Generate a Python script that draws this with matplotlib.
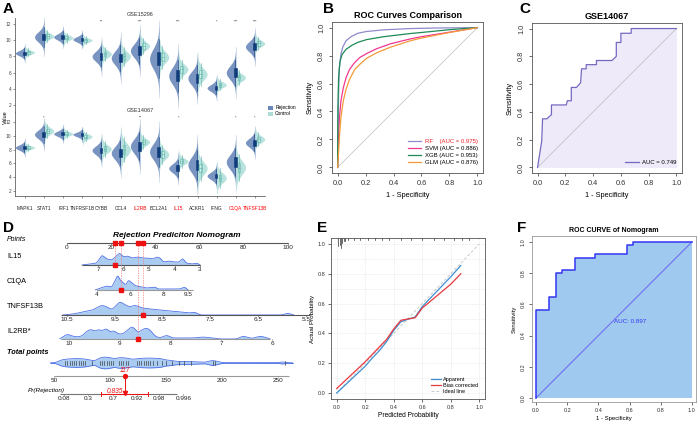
import numpy as np
import matplotlib
matplotlib.use("Agg")
import matplotlib.pyplot as plt
from matplotlib.patches import Patch, Rectangle
from matplotlib.lines import Line2D

plt.rcParams['font.family'] = ['Liberation Sans', 'DejaVu Sans']

# ---------------- data ----------------
genes = ["MAPK1", "STAT1", "IRF1", "TNFRSF1B", "CYBB", "CCL4", "IL2RB",
         "BCL2A1", "IL15", "ACKR1", "IFNG", "C1QA", "TNFSF13B"]
hub_genes = ["IL2RB", "IL15", "C1QA", "TNFSF13B"]

gse15296_rej_med = [8.4, 10.4, 10.4, 10.1, 8.0, 7.8, 8.7, 7.7, 5.6, 5.3, 4.1, 6.0, 9.2]
gse15296_ctl_med = [8.5, 10.5, 10.3, 10.0, 8.3, 8.0, 9.3, 7.9, 6.4, 5.8, 4.5, 5.4, 9.6]
gse15296_rej_sd = [0.3, 0.6, 0.35, 0.3, 0.6, 0.8, 0.8, 1.2, 1.0, 0.8, 0.4, 0.8, 0.6]
gse15296_ctl_sd = [0.25, 0.35, 0.3, 0.25, 0.45, 0.6, 0.5, 0.7, 0.6, 0.7, 0.35, 0.45, 0.4]
gse15296_sig = ["", "", "", "", "**", "", "***", "", "***", "", "*", "***", "***"]

gse14067_rej_med = [8.3, 10.2, 10.3, 10.2, 7.9, 7.5, 8.5, 7.7, 5.3, 5.8, 4.2, 6.2, 9.0]
gse14067_ctl_med = [8.3, 10.7, 10.3, 9.9, 8.1, 8.0, 9.1, 7.3, 6.3, 5.3, 3.9, 5.4, 9.5]
gse14067_rej_sd = [0.35, 0.6, 0.35, 0.3, 0.6, 0.9, 1.0, 1.1, 0.6, 1.1, 0.5, 1.0, 0.6]
gse14067_ctl_sd = [0.25, 0.5, 0.3, 0.35, 0.55, 0.9, 0.5, 0.7, 0.45, 0.9, 0.7, 1.0, 0.5]
gse14067_sig = ["", "*", "", "", "", "", "**", "", "*", "", "", "*", "*"]

# Panel B ROC curves
rf_fpr = [0, 0.003, 0.007, 0.012, 0.024, 0.037, 0.06, 0.1, 0.146, 0.207, 0.33, 0.52, 0.7, 1.0]
rf_tpr = [0, 0.25, 0.52, 0.71, 0.81, 0.86, 0.906, 0.937, 0.96, 0.972, 0.984, 0.993, 0.997, 1.0]
svm_fpr = [0, 0.005, 0.012, 0.024, 0.041, 0.06, 0.085, 0.122, 0.159, 0.207, 0.28, 0.378, 0.524, 0.6, 0.8, 1.0]
svm_tpr = [0, 0.174, 0.337, 0.477, 0.57, 0.64, 0.70, 0.75, 0.786, 0.814, 0.849, 0.884, 0.92, 0.935, 0.967, 1.0]
xgb_fpr = [0, 0.002, 0.007, 0.017, 0.032, 0.06, 0.1, 0.146, 0.207, 0.33, 0.524, 0.6, 0.8, 1.0]
xgb_tpr = [0, 0.41, 0.64, 0.756, 0.807, 0.844, 0.872, 0.895, 0.914, 0.935, 0.958, 0.965, 0.985, 1.0]
glm_fpr = [0, 0.007, 0.015, 0.024, 0.041, 0.06, 0.085, 0.122, 0.159, 0.207, 0.28, 0.378, 0.524, 0.6, 0.8, 1.0]
glm_tpr = [0, 0.105, 0.244, 0.36, 0.477, 0.558, 0.628, 0.70, 0.737, 0.78, 0.82, 0.86, 0.907, 0.925, 0.965, 1.0]
model_labels = ["RF    (AUC = 0.975)", "SVM (AUC = 0.886)", "XGB (AUC = 0.953)", "GLM (AUC = 0.876)"]

# Panel C ROC (GSE14067)
c_fpr = [0, 0.03, 0.036, 0.067, 0.10, 0.10, 0.207, 0.214, 0.243, 0.243, 0.28, 0.31, 0.317, 0.35, 0.35,
         0.424, 0.424, 0.536, 0.567, 0.567, 0.6, 0.6, 0.674, 0.674, 1.0]
c_tpr = [0, 0.19, 0.35, 0.35, 0.38, 0.45, 0.45, 0.48, 0.48, 0.576, 0.576, 0.61, 0.71, 0.71, 0.74,
         0.74, 0.77, 0.77, 0.80, 0.90, 0.90, 0.966, 0.966, 1.0, 1.0]

# Panel D nomogram
il15_ticks = [7, 6, 5, 4, 3]
c1qa_ticks = [4, 6, 8, 9.5]
tnfsf13b_ticks = [10.5, 9.5, 8.5, 7.5, 6.5, 5.5]
il2rb_ticks = [10, 9, 8, 7, 6]
points_ticks = [0, 20, 40, 60, 80, 100]
total_ticks = [50, 100, 150, 200, 250]
pr_ticks = [0.08, 0.3, 0.7, 0.92, 0.98, 0.996]

il15_dens_v = [7.63, 7.3, 7.05, 6.85, 6.65, 6.45, 6.25, 6.15, 6.0, 5.85, 5.65, 5.45, 5.25, 5.05,
               4.85, 4.7, 4.55, 4.45, 4.2, 4.0, 3.8, 3.68, 3.55, 3.3, 3.12, 3.0]
il15_dens_h = [0, 1, 2, 10, 6, 5, 10, 12, 8, 9, 7, 8, 7, 7, 6, 8, 7, 3, 4, 3, 3, 7, 2, 1, 2, 0]
c1qa_dens_v = [3.9, 4.2, 4.6, 4.9, 5.05, 5.25, 5.4, 5.6, 5.75, 5.9, 6.05, 6.25, 6.4, 6.7, 7.0,
               7.5, 7.7, 8.3, 9.0, 9.3, 9.5]
c1qa_dens_h = [0, 2, 4, 3, 8, 15, 10, 7, 5, 10, 8, 5, 4, 3, 2, 3, 1, 1, 1, 3, 0]
tnf_dens_v = [10.58, 10.37, 10.17, 9.96, 9.77, 9.66, 9.56, 9.5, 9.39, 9.29, 9.18, 9.08, 8.93,
              8.76, 8.55, 8.35, 8.14, 7.93, 7.82, 7.72, 7.3, 6.0, 5.88, 5.76]
tnf_dens_h = [0, 1, 3, 5, 10, 8, 5, 8, 14, 10, 8, 10, 7, 6, 5, 4, 3, 2, 3, 0, 0, 0, 2, 0]
il2rb_dens_v = [10.18, 10.04, 9.94, 9.84, 9.74, 9.65, 9.55, 9.49, 9.43, 9.35, 9.25, 9.19, 9.13,
                9.03, 8.94, 8.84, 8.76, 8.7, 8.64, 8.54, 8.46, 8.4, 8.31, 8.21, 8.07, 7.97,
                7.75, 7.56, 7.36, 7.16, 7.02, 6.7, 6.57, 6.4, 6.22, 6.04]
il2rb_dens_h = [0, 5, 3, 2, 3, 8, 10, 7, 10, 8, 11, 6, 9, 5, 5, 9, 13, 10, 6, 10, 11, 9, 3, 1,
                4, 1, 1, 1, 2, 1, 0, 0, 3, 0.5, 3, 0]
total_dens_v = [47, 52, 56, 62, 70, 78, 84, 87, 90, 95, 100, 104, 108, 115, 120, 125, 135, 145,
                150, 155, 160, 170, 180, 185, 190, 193, 197, 202, 230, 250, 254, 258, 263]
total_dens_h = [0, 0.5, 3, 4, 4.5, 4, 2.5, 2, 5, 6, 5.5, 4, 5.5, 5, 3.5, 4.5, 5, 4.5, 3, 2.5,
                1.5, 1.5, 1, 0.6, 2.5, 2.5, 1, 0.3, 0.3, 0.3, 1.2, 0.3, 0]
total_obs = [60, 62, 64, 66, 68, 70, 72, 74, 76, 78, 84, 91, 93, 95, 97, 99, 101, 103, 108, 110,
             112, 114, 116, 124, 126, 128, 130, 132, 134, 136, 138, 142, 146, 150, 155, 162,
             166, 172, 192, 194, 256]
pt_il15, pt_c1qa, pt_tnf, pt_il2rb = 6.33, 5.45, 8.91, 8.64
pt_total_label = 117
pt_pr = 0.835
pt_pr_ci = [0.51, 0.96]

# Panel E calibration
cal_pred = [0, 0.1, 0.2, 0.25, 0.3, 0.35, 0.4, 0.45, 0.5, 0.55, 0.6, 0.7, 0.8, 0.87]
cal_apparent = [0.0, 0.09, 0.18, 0.235, 0.285, 0.345, 0.42, 0.478, 0.495, 0.51, 0.58, 0.68, 0.78, 0.855]
cal_bias = [0.03, 0.12, 0.21, 0.26, 0.31, 0.36, 0.43, 0.488, 0.497, 0.505, 0.57, 0.65, 0.73, 0.80]
rug_pred = [0.01, 0.02, 0.03, 0.04, 0.05, 0.06, 0.08, 0.12, 0.16, 0.22, 0.27, 0.32, 0.37, 0.45,
            0.52, 0.6, 0.68, 0.75, 0.82, 0.88, 0.93]
rug_count = [5, 4, 6, 3, 2, 2, 1, 1, 1, 1, 1, 1, 1, 1, 1, 1, 1, 1, 1, 1, 1]

# Panel F nomogram ROC
f_fpr = [0, 0, 0.083, 0.083, 0.128, 0.128, 0.168, 0.168, 0.249, 0.249, 0.377, 0.377, 0.584,
         0.584, 0.623, 0.623, 1.0]
f_tpr = [0, 0.566, 0.566, 0.647, 0.647, 0.80, 0.80, 0.82, 0.82, 0.90, 0.90, 0.92, 0.92, 0.98,
         0.98, 1.0, 1.0]

# ---------------- figure ----------------
W, H = 700, 425
fig = plt.figure(figsize=(7, 4.25), dpi=100)


def px_axes(l, t, r, b):
    return fig.add_axes([l / W, 1 - b / H, (r - l) / W, (b - t) / H])


def fig_text(x, y, s, **kw):
    fig.text(x / W, 1 - y / H, s, **kw)


for lab, (x, y) in zip("ABCDEF", [(8, 9), (328, 9), (525, 9), (8, 228), (322, 228), (522, 228)]):
    fig_text(x, y, lab, fontsize=11, fontweight='bold', ha='center', va='center')

# ---------------- Panel A ----------------
REJ_V, CTL_V = '#6A89BA', '#ACDDD7'
REJ_B, CTL_B, CTL_E = '#0F3C7A', '#CDEDE8', '#5DB3A8'


def half_violin(ax, pos, med, sd, side, color):
    y = np.linspace(med - 4.0 * sd, med + 4.0 * sd, 160)
    z = (y - med) / sd
    w = 0.5 * (0.85 * np.exp(-0.5 * z ** 2) + 0.15 * np.exp(-0.5 * (z / 2.0) ** 2))
    if side < 0:
        ax.fill_betweenx(y, pos - w, pos, color=color, lw=0, alpha=0.9)
    else:
        ax.fill_betweenx(y, pos, pos + w, color=color, lw=0, alpha=0.85)


def box(ax, pos, med, sd, face, edge):
    q1, q3 = med - 0.674 * sd, med + 0.674 * sd
    ax.plot([pos, pos], [med - 2 * sd, med + 2 * sd], color=edge, lw=0.4)
    ax.add_patch(Rectangle((pos - 0.07, q1), 0.14, q3 - q1, facecolor=face, edgecolor=edge, lw=0.4))
    ax.plot([pos - 0.07, pos + 0.07], [med, med], color=edge, lw=0.4)


facets = [
    ("GSE15296", gse15296_rej_med, gse15296_ctl_med, gse15296_rej_sd, gse15296_ctl_sd, gse15296_sig,
     (18, 112), (1.14, 12.74), 12.3, 15),
    ("GSE14067", gse14067_rej_med, gse14067_ctl_med, gse14067_rej_sd, gse14067_ctl_sd, gse14067_sig,
     (112, 196), (1.28, 13.45), 12.62, 111),
]
xpos = np.arange(len(genes))
for k, (name, rm, cm, rs, cs, sig, (t, b), ylim, sy, ly) in enumerate(facets):
    ax = px_axes(15, t, 265, b)
    ax.patch.set_alpha(0)
    for i in xpos:
        half_violin(ax, i, rm[i], rs[i], -1, REJ_V)
        half_violin(ax, i, cm[i], cs[i], 1, CTL_V)
        box(ax, i - 0.03, rm[i], rs[i], REJ_B, REJ_B)
        box(ax, i + 0.17, cm[i], cs[i], CTL_B, CTL_E)
        if sig[i]:
            ax.text(i, sy, sig[i], fontsize=2.8, ha='center', va='center', color='#333')
    ax.set_xlim(-0.52, 12.52)
    ax.set_ylim(*ylim)
    ax.set_yticks([2, 4, 6, 8, 10, 12])
    ax.tick_params(axis='y', labelsize=3.5, length=1.5, width=0.4, pad=1, colors='#444')
    for s in ['top', 'right']:
        ax.spines[s].set_visible(False)
    ax.spines['left'].set_linewidth(0.5)
    ax.spines['left'].set_color('#444')
    fig_text(140, ly, name, fontsize=4, ha='center', va='center', color='#333')
    if k == 0:
        ax.spines['bottom'].set_visible(False)
        ax.set_xticks([])
    else:
        ax.spines['bottom'].set_linewidth(0.5)
        ax.spines['bottom'].set_color('#444')
        ax.set_xticks(xpos)
        ax.set_xticklabels(genes, fontsize=3.5)
        ax.tick_params(axis='x', length=1.5, width=0.4, pad=6, colors='#444')
        for tl, g in zip(ax.get_xticklabels(), genes):
            tl.set_color('red' if g in hub_genes else '#222')
fig_text(5, 117, "Value", fontsize=4, rotation=90, ha='center', va='center')
fig.legend([Patch(facecolor=REJ_V, edgecolor='none'), Patch(facecolor=CTL_V, edgecolor='none')],
           ["Rejection", "Control"], loc='upper left', bbox_to_anchor=(266 / W, 1 - 103 / H),
           fontsize=3.5, frameon=False, handlelength=1.0, handleheight=0.8, labelspacing=0.2,
           borderpad=0, handletextpad=0.4)


# ---------------- R-style helpers ----------------
def rstyle(ax, fs=5, rot=True, pad=2.5, lims=(-0.04, 1.04)):
    ax.set_xlim(*lims)
    ax.set_ylim(*lims)
    for s in ax.spines.values():
        s.set_color('#555')
        s.set_linewidth(0.6)
    ticks = np.round(np.arange(0, 1.01, 0.2), 1)
    ax.set_xticks(ticks)
    ax.set_yticks(ticks)
    ax.set_xticklabels([f"{v:.1f}" for v in ticks])
    ax.set_yticklabels([f"{v:.1f}" for v in ticks])
    ax.tick_params(length=2.5, width=0.5, labelsize=fs, colors='#333', pad=pad)
    if rot:
        for tl in ax.get_yticklabels():
            tl.set_rotation(90)
            tl.set_va('center')


# ---------------- Panel B ----------------
axB = px_axes(332, 22, 483, 173)
rstyle(axB, fs=5.3)
axB.plot([0, 1], [0, 1], color='#BBBBBB', lw=0.5)
b_colors = ['#8F8BCB', '#F0388F', '#1F8A55', '#F39A3A']
handles = []
for fpr, tpr, c in zip([rf_fpr, svm_fpr, xgb_fpr, glm_fpr], [rf_tpr, svm_tpr, xgb_tpr, glm_tpr], b_colors):
    h, = axB.plot(fpr, tpr, color=c, lw=0.9)
    handles.append(h)
axB.set_title("ROC Curves Comparison", fontsize=6.5, fontweight='bold', pad=3)
axB.set_xlabel("1 - Specificity", fontsize=5.3, labelpad=4)
axB.set_ylabel("Sensitivity", fontsize=5.3, labelpad=3)
leg = axB.legend(handles, model_labels, loc='lower right', bbox_to_anchor=(1.0, 0.02), fontsize=4.3,
                 frameon=False, handlelength=2.2, labelspacing=0.3, handletextpad=0.6)
leg.get_texts()[0].set_color('#E8232A')

# ---------------- Panel C ----------------
axC = px_axes(532, 23, 682, 173)
rstyle(axC, fs=5.3)
axC.fill_between(c_fpr, 0, c_tpr, color='#EEEAFA', lw=0)
axC.plot([0, 1], [0, 1], color='#BBBBBB', lw=0.5)
hC, = axC.plot(c_fpr, c_tpr, color='#7468C0', lw=0.9)
axC.set_title("GSE14067", fontsize=6.5, fontweight='bold', pad=3)
axC.set_xlabel("1 - Specificity", fontsize=5.3, labelpad=4)
axC.set_ylabel("Sensitivity", fontsize=5.3, labelpad=3)
axC.legend([hC], ["AUC = 0.749"], loc='lower right', bbox_to_anchor=(1.0, 0.02), fontsize=4.3,
           frameon=False, handlelength=2.2, handletextpad=0.6)

# ---------------- Panel D (nomogram) ----------------
axD = px_axes(0, 215, 320, 425)
axD.set_xlim(0, 320)
axD.set_ylim(425, 215)
axD.axis('off')


def lin(v, v0, p0, v1, p1):
    return p0 + (np.asarray(v, dtype=float) - v0) * (p1 - p0) / (v1 - v0)


def s_points(v): return lin(v, 0, 67, 100, 288)
def s_il15(v): return lin(v, 7, 98, 3, 200)
def s_c1qa(v): return lin(v, 4, 97, 9.5, 188)
def s_tnf(v): return lin(v, 10.5, 67, 5.5, 306)
def s_il2rb(v): return lin(v, 10, 69, 6, 272)
def s_total(v): return lin(v, 50, 54, 250, 278)
def s_pr(p):
    p = np.asarray(p, dtype=float)
    return 100.5 + 15 * np.log(p / (1 - p))


DFILL, DEDGE = '#A9CCF0', '#5070E6'


def nomo_axis(scale, lo, hi, ticks, row, color='#666', fmt=None):
    axD.plot([scale(lo), scale(hi)], [row, row], color=color, lw=0.8, solid_capstyle='butt', zorder=2)
    for t in ticks:
        x = scale(t)
        axD.plot([x, x], [row, row + 1.3], color=color, lw=0.5, zorder=2)
        axD.text(x, row + 4.6, fmt(t) if fmt else f"{t:g}", fontsize=4.6, ha='center', va='center',
                 color='#222')


def smooth(v, h, scale):
    xs = scale(np.array(v))
    order = np.argsort(xs)
    xs, hs = xs[order], np.array(h, dtype=float)[order]
    xf = np.linspace(xs[0], xs[-1], 400)
    hf = np.interp(xf, xs, hs)
    k = np.exp(-0.5 * (np.arange(-8, 9) / 3.0) ** 2)
    k /= k.sum()
    hf = np.convolve(np.pad(hf, 8, mode='edge'), k, mode='same')[8:-8]
    return xf, hf


def density(v, h, scale, row):
    xf, hf = smooth(v, h, scale)
    axD.fill_between(xf, row, row - hf, color=DFILL, lw=0, zorder=1)
    axD.plot(xf, row - hf, color=DEDGE, lw=0.6, zorder=1.5)


rows = {'points': 243, 'il15': 265, 'c1qa': 290, 'tnf': 315, 'il2rb': 339,
        'tviol': 363, 'total': 376, 'pr': 394}

axD.text(7, 240, "Points", fontsize=5, style='italic', ha='left', va='center')
axD.text(7, 257, "IL15", fontsize=5.3, ha='left', va='center')
axD.text(7, 282, "C1QA", fontsize=5.3, ha='left', va='center')
axD.text(7, 307, "TNFSF13B", fontsize=5.3, ha='left', va='center')
axD.text(7, 332, "IL2RB*", fontsize=5.3, ha='left', va='center')
axD.text(7, 353, "Total points", fontsize=5.3, style='italic', fontweight='bold', ha='left', va='center')
axD.text(46, 391, "Pr(Rejection)", fontsize=4.6, style='italic', ha='center', va='center')
axD.text(177, 236, "Rejection Prediciton Nomogram", fontsize=6, style='italic', fontweight='bold',
         ha='center', va='center')

density(il15_dens_v, il15_dens_h, s_il15, rows['il15'])
density(c1qa_dens_v, c1qa_dens_h, s_c1qa, rows['c1qa'])
density(tnf_dens_v, tnf_dens_h, s_tnf, rows['tnf'])
density(il2rb_dens_v, il2rb_dens_h, s_il2rb, rows['il2rb'])

nomo_axis(s_points, 0, 100, points_ticks, rows['points'], color='#555')
nomo_axis(s_il15, 7.63, 3.0, il15_ticks, rows['il15'], color='#555')
nomo_axis(s_c1qa, 4, 9.8, c1qa_ticks, rows['c1qa'], color='#999')
nomo_axis(s_tnf, 10.62, 5.41, tnfsf13b_ticks, rows['tnf'], color='#555')
nomo_axis(s_il2rb, 10.16, 6.04, il2rb_ticks, rows['il2rb'], color='#999')
nomo_axis(s_total, 50, 260, total_ticks, rows['total'], color='#999')
nomo_axis(s_pr, 0.063, 0.994, pr_ticks, rows['pr'], color='#777')

xf, hf = smooth(total_dens_v, total_dens_h, s_total)
tv = rows['tviol']
axD.plot([s_total(47), s_total(263)], [tv, tv], color=DEDGE, lw=0.6, zorder=1)
axD.fill_between(xf, tv - hf, tv + hf, color=DFILL, lw=0, zorder=1)
axD.plot(xf, tv - hf, color=DEDGE, lw=0.6, zorder=1.5)
axD.plot(xf, tv + hf, color=DEDGE, lw=0.6, zorder=1.5)
for t in total_obs:
    x = s_total(t)
    axD.plot([x, x], [tv - 2.2, tv + 2.2], color='#333', lw=0.45, zorder=2)

for val, sc, key in [(pt_il15, s_il15, 'il15'), (pt_c1qa, s_c1qa, 'c1qa'),
                     (pt_tnf, s_tnf, 'tnf'), (pt_il2rb, s_il2rb, 'il2rb')]:
    x = sc(val)
    axD.plot([x, x], [rows['points'], rows[key]], color='#F08080', lw=0.5, ls=(0, (2, 1.5)), zorder=3)
    axD.plot(x, rows[key], 's', color='#EE1111', ms=2.6, zorder=4)
    axD.plot(x, rows['points'], 's', color='#EE1111', ms=2.6, zorder=4)

xp = s_pr(pt_pr)
axD.text(xp, 371, f"{pt_total_label}", color='#EE1111', fontsize=4.8, style='italic', ha='center', va='center')
axD.plot(xp, rows['total'], 'o', color='#EE1111', ms=2.8, zorder=4)
axD.plot([xp, xp], [rows['total'], rows['pr'] - 2], color='#EE1111', lw=0.7, zorder=4)
axD.plot(xp, rows['pr'] - 1, 'v', color='#EE1111', ms=3.0, zorder=5)
xl, xh = s_pr(pt_pr_ci[0]), s_pr(pt_pr_ci[1])
axD.plot([xl, xh], [rows['pr'], rows['pr']], color='#EE1111', lw=0.7, zorder=4)
for x in (xl, xh):
    axD.plot([x, x], [rows['pr'] - 2, rows['pr'] + 2], color='#EE1111', lw=0.7, zorder=4)
axD.text(xp - 10, rows['pr'] - 2.5, f"{pt_pr:.3f}", color='#EE1111', fontsize=4.8, style='italic',
         ha='center', va='center')

# ---------------- Panel E ----------------
axE = px_axes(331, 238, 485, 399)
rstyle(axE, fs=4, rot=False, pad=1.5)
for g in np.arange(0, 1.01, 0.1):
    axE.axhline(g, color='#DDDDDD', lw=0.5, ls=(0, (1, 1.5)), zorder=0)
for g in np.arange(0, 1.01, 0.2):
    axE.axvline(g, color='#DDDDDD', lw=0.5, ls=(0, (1, 1.5)), zorder=0)
hI, = axE.plot([0, 1], [0, 1], color='#C8C8C8', lw=0.7, ls=(0, (3, 2)))
hA, = axE.plot(cal_pred, cal_apparent, color='#3E90D2', lw=0.9)
hB, = axE.plot(cal_pred, cal_bias, color='#E63A3F', lw=0.9)
for p, c in zip(rug_pred, rug_count):
    axE.plot([p, p], [1.04, 1.04 - 0.011 * c], color='#333', lw=0.5)
axE.set_xlabel("Predicted Probability", fontsize=4.8, labelpad=2)
axE.set_ylabel("Actual Probability", fontsize=4.5, labelpad=2)
axE.legend([hA, hB, hI], ["Apparent", "Bias corrected", "Ideal line"], loc='lower right',
           bbox_to_anchor=(0.99, 0.0), fontsize=4, frameon=False, handlelength=1.8,
           labelspacing=0.15, handletextpad=0.5)

# ---------------- Panel F ----------------
axF = px_axes(532, 236, 696, 402)
rstyle(axF, fs=4, pad=2, lims=(-0.026, 1.026))
axF.set_ylim(-0.026, 1.038)
for s in axF.spines.values():
    s.set_color('#999')
axF.fill_between(f_fpr, 0, f_tpr, color='#9FC9EF', lw=0)
axF.plot([0, 1], [0, 1], color='#6F6FF0', lw=0.8)
axF.plot(f_fpr, f_tpr, color='#3535F5', lw=1.1)
axF.text(0.5, 0.49, "AUC: 0.897", color='#3535F5', fontsize=4.5, ha='left', va='center')
axF.set_title("ROC CURVE of Nomogram", fontsize=5, fontweight='bold', pad=3)
axF.set_xlabel("1 - Specificity", fontsize=4.3, labelpad=2)
axF.set_ylabel("Sensitivity", fontsize=4.3, labelpad=3)

fig.savefig("out.png", dpi=100)
